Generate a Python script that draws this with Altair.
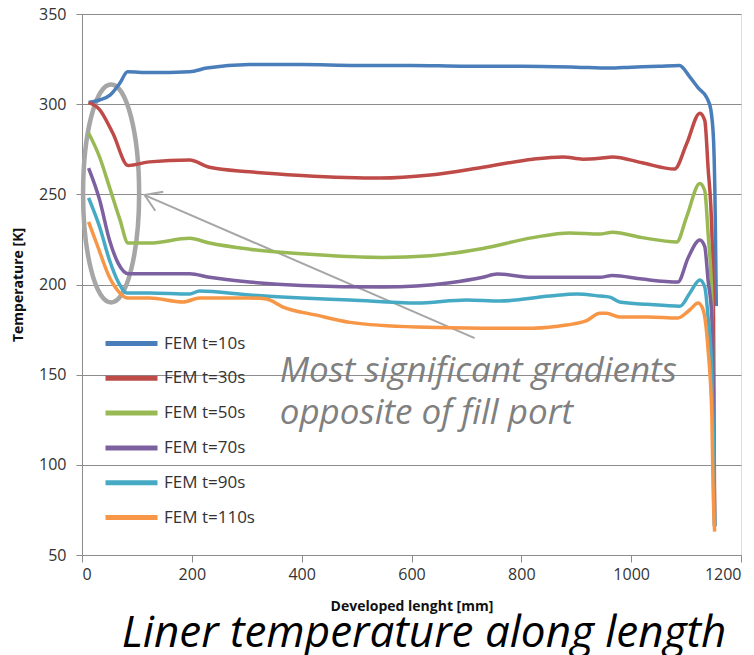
import altair as alt
import pandas as pd

# ---- data ----
series_names = ["FEM t=10s", "FEM t=30s", "FEM t=50s", "FEM t=70s", "FEM t=90s", "FEM t=110s"]
series_colors = ["#4A7EBB", "#BE4B48", "#98B954", "#7D60A0", "#46AAC5", "#F79646"]

x_10 = [12, 32, 51, 69, 83, 123, 196, 227, 305, 400, 500, 600, 700, 800, 900, 960, 1000, 1050, 1088, 1107, 1122, 1138, 1145, 1150, 1153, 1155]
t_10 = [301, 302.3, 305, 311.7, 318, 317.5, 318, 320, 322, 322, 321.5, 321.5, 321, 321, 320.5, 320, 320.5, 321, 321.5, 315, 309, 303.4, 297, 280, 240, 188]

x_30 = [12, 32, 56, 84, 123, 196, 232, 305, 400, 543, 634, 730, 821, 876, 912, 943, 966, 1020, 1079, 1101, 1125, 1134, 1140, 1147, 1150, 1152]
t_30 = [301, 297, 284, 266, 268, 269, 265, 262.5, 260.5, 259, 260.7, 265, 269.5, 270.7, 269.5, 270, 270.7, 267.5, 264, 278, 295, 291, 265, 228.6, 182, 66]

x_50 = [12, 32, 50, 69, 84, 123, 196, 232, 305, 400, 548, 634, 730, 821, 888, 943, 966, 1020, 1083, 1101, 1125, 1134, 1140, 1147, 1150, 1152]
t_50 = [284, 270.7, 254, 236, 223, 223, 225.6, 223, 219.6, 217, 215, 216, 220, 226, 228.6, 228, 229, 226, 223.6, 237.5, 256, 252, 228.6, 191.6, 130, 66]

x_70 = [12, 32, 50, 66, 84, 123, 196, 232, 305, 400, 548, 670, 730, 756, 821, 943, 966, 1020, 1085, 1104, 1125, 1134, 1140, 1147, 1150, 1152]
t_70 = [264.5, 247, 224.7, 211.7, 206, 206, 206, 204, 201.4, 199.5, 198.6, 201, 204, 205.8, 204, 204, 205, 203, 201.4, 215, 224.7, 221, 202.5, 182, 130, 66]

x_90 = [12, 32, 50, 66, 82, 123, 196, 214, 305, 400, 488, 609, 700, 761, 852, 901, 943, 961, 979, 1030, 1089, 1107, 1125, 1134, 1140, 1147, 1150, 1152]
t_90 = [248, 232, 213.6, 201.4, 195.3, 195.3, 194.7, 196.4, 194.2, 192.5, 191.4, 189.7, 191.4, 190.8, 193.6, 194.7, 193.6, 193, 190.3, 189, 188, 195.3, 202.5, 198.6, 182, 150, 110, 66]

x_110 = [12, 29, 50, 69, 82, 123, 184, 214, 305, 336, 366, 427, 488, 609, 730, 821, 882, 919, 943, 955, 979, 1030, 1085, 1107, 1122, 1131, 1140, 1147, 1149, 1152]
t_110 = [234.7, 220.8, 204, 195.3, 192.5, 192.5, 190.3, 192.5, 192.5, 191.9, 187.5, 183, 179, 176.4, 175.8, 175.8, 177.5, 180, 184, 184, 182, 182, 181.4, 186, 189.7, 186, 164, 126.5, 90, 63]

# annotation content (data coordinates)
note_lines = ["Most significant gradients", "opposite of fill port"]
note_x = [360, 360]
note_y = [145.9, 122.6]
ellipse_x = [53]
ellipse_y = [250.5]
arrow_from = (715, 170.3)
arrow_to = (114, 249.6)

xs = [x_10, x_30, x_50, x_70, x_90, x_110]
ts = [t_10, t_30, t_50, t_70, t_90, t_110]
rows = []
for name, xv, tv in zip(series_names, xs, ts):
    for i, (a, b) in enumerate(zip(xv, tv)):
        rows.append({"series": name, "x": a, "T": b, "i": i})
df = pd.DataFrame(rows)

FONT = "Open Sans"
GRAY = "#A6A6A6"

xscale = alt.Scale(domain=[0, 1200], nice=False)
yscale = alt.Scale(domain=[50, 350], nice=False)

lines = alt.Chart(df).mark_line(strokeWidth=3.5, interpolate="monotone").encode(
    x=alt.X("x:Q", scale=xscale, axis=alt.Axis(
        title="Developed lenght [mm]", values=[0, 200, 400, 600, 800, 1000, 1200], format="d",
        grid=False, tickSize=7, labelPadding=4, labelFontSize=16, labelFont=FONT,
        labelColor="#333333", domainColor="#8C8C8C", tickColor="#8C8C8C",
        titleFont=FONT, titleFontSize=14, titleFontWeight="bold", titleColor="#111111",
        titleY=51, titleBaseline="middle")),
    y=alt.Y("T:Q", scale=yscale, axis=alt.Axis(
        title="Temperature [K]", values=[50, 100, 150, 200, 250, 300, 350],
        grid=True, gridColor="#8C8C8C", tickSize=6, labelPadding=10, labelFontSize=16,
        labelFont=FONT, labelColor="#333333", domainColor="#8C8C8C", tickColor="#8C8C8C",
        titleFont=FONT, titleFontSize=14, titleFontWeight="bold", titleColor="#111111",
        titleX=-64, titleY=270.5, titleAngle=-90, titleAlign="center", titleBaseline="middle")),
    color=alt.Color("series:N", sort=series_names,
                    scale=alt.Scale(domain=series_names, range=series_colors),
                    legend=alt.Legend(title=None, orient="none", legendX=37, legendY=317,
                                      symbolType="M-2.6,0L2.6,0", symbolSize=400,
                                      symbolStrokeWidth=5, labelFontSize=17, labelFont=FONT,
                                      labelColor="#333333", labelOffset=20, rowPadding=11.8,
                                      padding=0)),
    order=alt.Order("i:Q"),
)

note_df = pd.DataFrame({"text": note_lines, "x": note_x, "T": note_y})
notes = alt.Chart(note_df).mark_text(
    align="left", baseline="alphabetic", font=FONT, fontSize=35, fontStyle="italic", color="#808080"
).encode(x=alt.X("x:Q", scale=xscale), y=alt.Y("T:Q", scale=yscale), text="text:N")

ell_path = ("M 0 -1 C 0.142 -1 0.257 -0.552 0.257 0 C 0.257 0.552 0.142 1 0 1 "
            "C -0.142 1 -0.257 0.552 -0.257 0 C -0.257 -0.552 -0.142 -1 0 -1 Z")
ell_df = pd.DataFrame({"x": ellipse_x, "T": ellipse_y})
ellipse = alt.Chart(ell_df).mark_point(
    shape=ell_path, size=47524, filled=False, stroke=GRAY, strokeWidth=4.5, opacity=1
).encode(x=alt.X("x:Q", scale=xscale), y=alt.Y("T:Q", scale=yscale))

arr_df = pd.DataFrame({"x": [arrow_from[0]], "T": [arrow_from[1]],
                       "x2": [arrow_to[0]], "T2": [arrow_to[1]]})
arrow = alt.Chart(arr_df).mark_rule(stroke=GRAY, strokeWidth=2).encode(
    x=alt.X("x:Q", scale=xscale), y=alt.Y("T:Q", scale=yscale), x2="x2:Q", y2="T2:Q")

head_df = pd.DataFrame({"x": [arrow_to[0]], "T": [arrow_to[1]]})
head = alt.Chart(head_df).mark_point(
    shape="M 0.84 -0.54 L 0 0 L 0.84 0.54", size=1444, filled=False, stroke=GRAY,
    strokeWidth=2, angle=23, opacity=1
).encode(x=alt.X("x:Q", scale=xscale), y=alt.Y("T:Q", scale=yscale))

chart = alt.layer(ellipse, arrow, head, notes, lines).properties(
    width=659, height=541,
    padding={"left": 74, "top": 6, "right": 5, "bottom": 100},
    autosize=alt.AutoSizeParams(type="none"),
    title=alt.TitleParams("Liner temperature along length", orient="bottom", anchor="middle",
                          font=FONT, fontSize=44, fontStyle="italic", fontWeight="normal",
                          color="#000000", offset=34, dx=12.5, baseline="alphabetic"),
).configure_view(stroke=None).configure(background="white")

chart.save("out.html", embed_options={"renderer": "svg", "actions": False})
